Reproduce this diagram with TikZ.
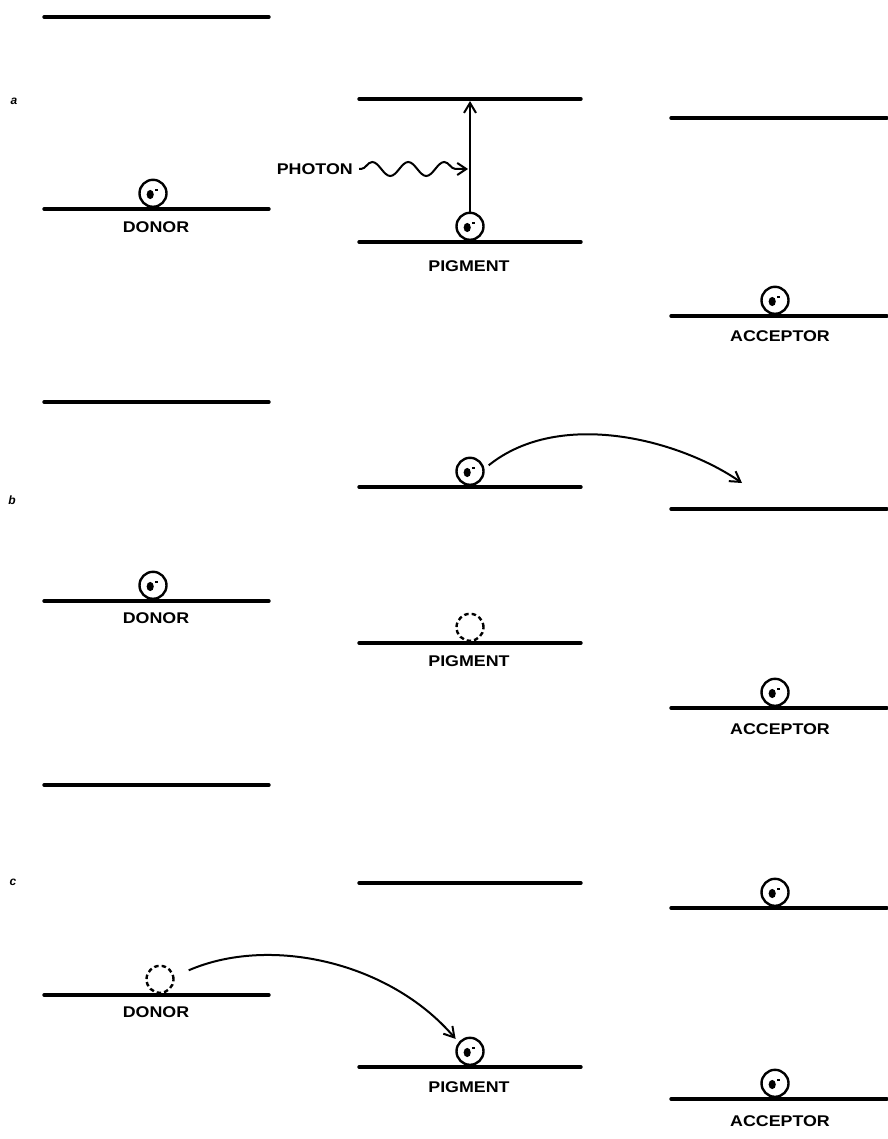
\documentclass[tikz,border=0pt]{standalone}
\usepackage{fontspec}
\setsansfont{Liberation Sans}
\usetikzlibrary{arrows.meta,decorations.pathmorphing}
\begin{document}
\begin{tikzpicture}[x=1pt,y=-1pt,
  level/.style={line width=3.4pt,line cap=round},
  electron/.style={circle,draw,line width=2.4pt,minimum size=27pt,inner sep=0pt,anchor=south,
    path picture={
      \fill ([shift={(-2.8pt,-1.2pt)}]path picture bounding box.center) ellipse (3.6pt and 4.6pt);
      \draw[line width=1.6pt] ([shift={(2.2pt,3.4pt)}]path picture bounding box.center) -- ++(3.2pt,0pt);}},
  hole/.style={circle,draw,dash pattern=on 4.5pt off 3pt,line width=2.4pt,minimum size=27pt,inner sep=0pt,anchor=south},
  tag/.style={font=\sffamily\bfseries\fontsize{15.5}{15.5}\selectfont,xscale=1.15,inner sep=0pt},
  panel/.style={font=\sffamily\bfseries\itshape\fontsize{12}{12}\selectfont,inner sep=0pt},
  move/.style={line width=2pt,-{Straight Barb[length=10pt,width=12pt,line width=2pt]}}]
\useasboundingbox (0,0) rectangle (887,1139);

% ---------- a: excitation by a photon ----------
\node[panel] (pa) at (14,101) {a};
\draw[level] (44,17) -- (269,17);
\draw[level] (44,209) -- (269,209);
\node[electron] (ead) at (153,208) {};
\node[tag] (da) at (156,227) {DONOR};

\draw[level] (359,99) -- (581,99);
\coordinate (upa) at (470,101);
\draw[level] (359,242) -- (581,242);
\node[electron] (eap) at (470,241) {};
\node[tag] (pga) at (469,266) {PIGMENT};
\draw[move] (eap.north) -- (upa);
\node[tag,anchor=east] (ph) at (353,169) {PHOTON};
\coordinate (phend) at (468,169);
\draw[line width=2pt,-{Straight Barb[length=9pt,width=12pt,line width=2pt]},
  decorate,decoration={snake,segment length=36pt,amplitude=7pt,pre length=2pt,post length=8pt}]
  ([xshift=6pt]ph.east) -- (phend);

\draw[level] (671,118) -- (887,118);
\draw[level] (671,316) -- (887,316);
\node[electron] (eaa) at (775,315) {};
\node[tag] (aca) at (780,336) {ACCEPTOR};

% ---------- b: charge separation ----------
\node[panel] (pb) at (12,500) {b};
\draw[level] (44,402) -- (269,402);
\draw[level] (44,601) -- (269,601);
\node[electron] (ebd) at (153,600) {};
\node[tag] (db) at (156,618) {DONOR};

\draw[level] (359,487) -- (581,487);
\node[electron] (ebp) at (470,486) {};
\draw[level] (359,643) -- (581,643);
\node[hole] (hbp) at (470,642) {};
\node[tag] (pgb) at (469,661) {PIGMENT};

\draw[level] (671,509) -- (887,509);
\coordinate (landb) at (742,483);
\draw[level] (671,708) -- (887,708);
\node[electron] (eba) at (775,707) {};
\node[tag] (acb) at (780,729) {ACCEPTOR};
\draw[move] ([shift={(4pt,6pt)}]ebp.east) .. controls (560,408) and (680,440) .. (landb);

% ---------- c: the donor refills the pigment ----------
\node[panel] (pc) at (13,882) {c};
\draw[level] (44,785) -- (269,785);
\draw[level] (44,995) -- (269,995);
\node[hole] (hcd) at (160,994) {};
\node[tag] (dc) at (156,1012) {DONOR};

\draw[level] (359,883) -- (581,883);
\draw[level] (359,1067) -- (581,1067);
\node[electron] (ecp) at (470,1066) {};
\node[tag] (pgc) at (469,1087) {PIGMENT};
\draw[move] ([shift={(14pt,9pt)}]hcd.east) .. controls (270,935) and (390,962) .. ([shift={(-4pt,2pt)}]ecp.north west);

\draw[level] (671,908) -- (887,908);
\node[electron] (eca) at (775,907) {};
\draw[level] (671,1099) -- (887,1099);
\node[electron] (ecb) at (775,1098) {};
\node[tag] (acc) at (780,1121) {ACCEPTOR};
\end{tikzpicture}
\end{document}
